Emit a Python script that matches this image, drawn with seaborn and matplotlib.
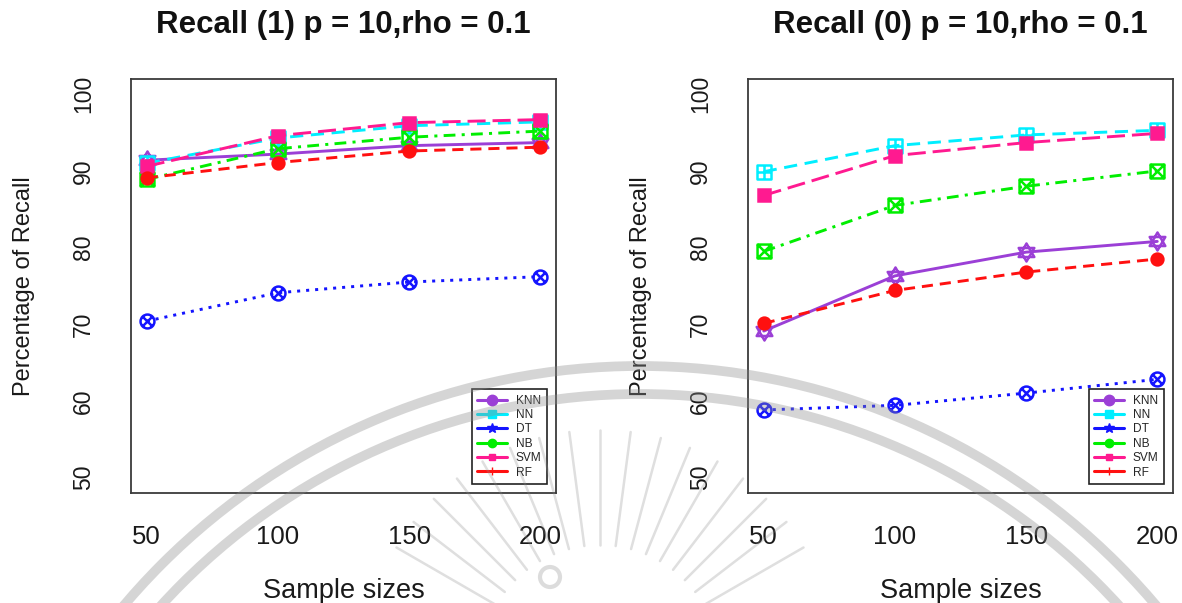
import numpy as np
import pandas as pd
import matplotlib
matplotlib.use("Agg")
import matplotlib.pyplot as plt
from matplotlib.path import Path
from matplotlib.patches import Circle
from matplotlib.lines import Line2D
import seaborn as sns

# ---- data -------------------------------------------------------------
sizes = [50, 100, 150, 200]
models = ["KNN", "NN", "DT", "NB", "SVM", "RF"]

recall1_knn = [91.4, 92.2, 93.3, 93.7]
recall1_nn = [91.0, 94.3, 95.9, 96.4]
recall1_dt = [70.4, 74.1, 75.5, 76.2]
recall1_nb = [88.9, 92.9, 94.4, 95.2]
recall1_svm = [90.6, 94.6, 96.3, 96.7]
recall1_rf = [89.1, 91.1, 92.6, 93.1]

recall0_knn = [69.1, 76.3, 79.4, 80.8]
recall0_nn = [89.9, 93.3, 94.7, 95.3]
recall0_dt = [58.8, 59.4, 61.0, 62.8]
recall0_nb = [79.5, 85.5, 88.0, 90.0]
recall0_svm = [86.8, 92.0, 93.7, 94.9]
recall0_rf = [70.1, 74.4, 76.8, 78.5]

panel_titles = ["Recall (1) p = 10,rho = 0.1", "Recall (0) p = 10,rho = 0.1"]
x_label = "Sample sizes"
y_label = "Percentage of Recall"
y_ticks = [50, 60, 70, 80, 90, 100]


def long_frame(values):
    rows = []
    for m, vals in zip(models, values):
        for s, v in zip(sizes, vals):
            rows.append({"model": m, "size": s, "recall": v})
    return pd.DataFrame(rows)


df1 = long_frame([recall1_knn, recall1_nn, recall1_dt, recall1_nb, recall1_svm, recall1_rf])
df0 = long_frame([recall0_knn, recall0_nn, recall0_dt, recall0_nb, recall0_svm, recall0_rf])

# ---- R-style plotting symbols ----------------------------------------
def compound(*parts):
    return Path.make_compound_path(*parts)


tri_up = Path([(0, 1), (-0.866, -0.5), (0.866, -0.5), (0, 1)], closed=True)
tri_dn = Path([(0, -1), (-0.866, 0.5), (0.866, 0.5), (0, -1)], closed=True)
pch11 = compound(tri_up, tri_dn)

square = Path([(-1, -1), (1, -1), (1, 1), (-1, 1), (-1, -1)], closed=True)
plus = Path([(0, -1), (0, 1), (-1, 0), (1, 0)],
            [Path.MOVETO, Path.LINETO, Path.MOVETO, Path.LINETO])
pch12 = compound(square, plus)

diag_sq = Path([(-1, -1), (1, 1), (-1, 1), (1, -1)],
               [Path.MOVETO, Path.LINETO, Path.MOVETO, Path.LINETO])
pch7 = compound(square, diag_sq)

r = 0.707
diag_c = Path([(-r, -r), (r, r), (-r, r), (r, -r)],
              [Path.MOVETO, Path.LINETO, Path.MOVETO, Path.LINETO])
pch13 = compound(Path.unit_circle(), diag_c)

style = {
    "KNN": dict(color="#9b3fd6", marker=pch11, ms=13, open=True, ls="-",
                lmarker="o", lms=7.5),
    "NN": dict(color="#00eeff", marker=pch12, ms=10, open=True, ls=(0, (9.5, 5.5)),
               lmarker="s", lms=5.5),
    "DT": dict(color="#1414ff", marker=pch13, ms=10, open=True, ls=(0, (2.2, 4.3)),
               lmarker="*", lms=7.5),
    "NB": dict(color="#00ee00", marker=pch7, ms=10, open=True, ls=(0, (8.5, 4.5, 2.2, 4.5)),
               lmarker="o", lms=6),
    "SVM": dict(color="#ff1a90", marker="s", ms=8, open=False, ls=(0, (13, 5)),
                lmarker="s", lms=4),
    "RF": dict(color="#ff1010", marker="o", ms=8.5, open=False, ls=(0, (8, 5)),
               lmarker="+", lms=6),
}

# ---- figure -----------------------------------------------------------
sns.set_theme(style="white")
plt.rcParams["font.family"] = ["Liberation Sans", "DejaVu Sans"]
plt.rcParams["lines.scale_dashes"] = False

W, H = 1182, 603
fig = plt.figure(figsize=(W / 100, H / 100), dpi=100)
fig.patch.set_facecolor("white")

ax_w, ax_h = 425 / W, 413.7 / H
ax_bottom = 1 - 492.7 / H
lefts = [131 / W, 748 / W]

for left, title, df in zip(lefts, panel_titles, [df1, df0]):
    ax = fig.add_axes([left, ax_bottom, ax_w, ax_h])
    ax.set_facecolor("none")
    for m in models:
        st = style[m]
        sub = df[df["model"] == m]
        sns.lineplot(data=sub, x="size", y="recall", ax=ax, color=st["color"],
                     linestyle=st["ls"], linewidth=2.1, marker=st["marker"],
                     markersize=st["ms"], markeredgewidth=1.8,
                     markeredgecolor=st["color"],
                     markerfacecolor="none" if st["open"] else st["color"],
                     legend=False, errorbar=None)

    ax.set_xlim(44, 206)
    ax.set_ylim(48, 102)
    ax.set_xticks(sizes)
    ax.set_yticks(y_ticks)
    ax.tick_params(axis="both", direction="out", length=10.8, width=1.1,
                   color="#333333", labelcolor="#1a1a1a")
    ax.tick_params(axis="x", pad=12.5, labelsize=18.5)
    ax.tick_params(axis="y", pad=15, labelrotation=90, labelsize=16.5)
    for lbl in ax.get_yticklabels():
        lbl.set_va("center")
    for sp in ax.spines.values():
        sp.set_color("#3a3a3a")
        sp.set_linewidth(1.3)

    ax.set_title(title, fontsize=22.5, fontweight="bold", pad=33, color="#111111")
    ax.set_xlabel(x_label, fontsize=19.5, color="#1a1a1a")
    ax.set_ylabel(y_label, fontsize=17, color="#1a1a1a")
    ax.xaxis.set_label_coords(0.5, -0.207)
    ax.yaxis.set_label_coords(-0.226, 0.5)

    handles = [Line2D([], [], color=style[m]["color"], lw=2.2,
                      marker=style[m]["lmarker"], ms=style[m]["lms"],
                      markeredgecolor=style[m]["color"],
                      markerfacecolor=style[m]["color"]) for m in models]
    leg = ax.legend(handles, models, loc="lower right",
                    bbox_to_anchor=(0.979, 0.021), borderaxespad=0,
                    fontsize=8.6, handlelength=2.5, handletextpad=0.75,
                    labelspacing=0.2, borderpad=0.45, fancybox=False,
                    frameon=True, framealpha=1)
    leg.get_frame().set_edgecolor("#222222")
    leg.get_frame().set_linewidth(1.2)

# ---- faint seal printed over the page ---------------------------------
seal = fig.add_axes([0, 0, 1, 1], zorder=10)
seal.set_xlim(0, W)
seal.set_ylim(H, 0)
seal.axis("off")
seal.patch.set_alpha(0)
seal_color, seal_alpha = "#8c8c8c", 0.36
for rad in (676, 648):
    seal.add_patch(Circle((640, 1042), rad, fill=False, lw=7,
                          edgecolor=seal_color, alpha=seal_alpha))
cx, cy = 600, 665
for ang in np.linspace(30, 150, 17):
    a = np.deg2rad(ang)
    r1, r2 = 120, 235
    seal.plot([cx + r1 * np.cos(a), cx + r2 * np.cos(a)],
              [cy - r1 * np.sin(a), cy - r2 * np.sin(a)],
              lw=1.8, solid_capstyle="round", color=seal_color, alpha=0.28)
seal.add_patch(Circle((550, 577), 10, fill=False, lw=3,
                      edgecolor=seal_color, alpha=0.3))

fig.savefig("out.png", dpi=100)
